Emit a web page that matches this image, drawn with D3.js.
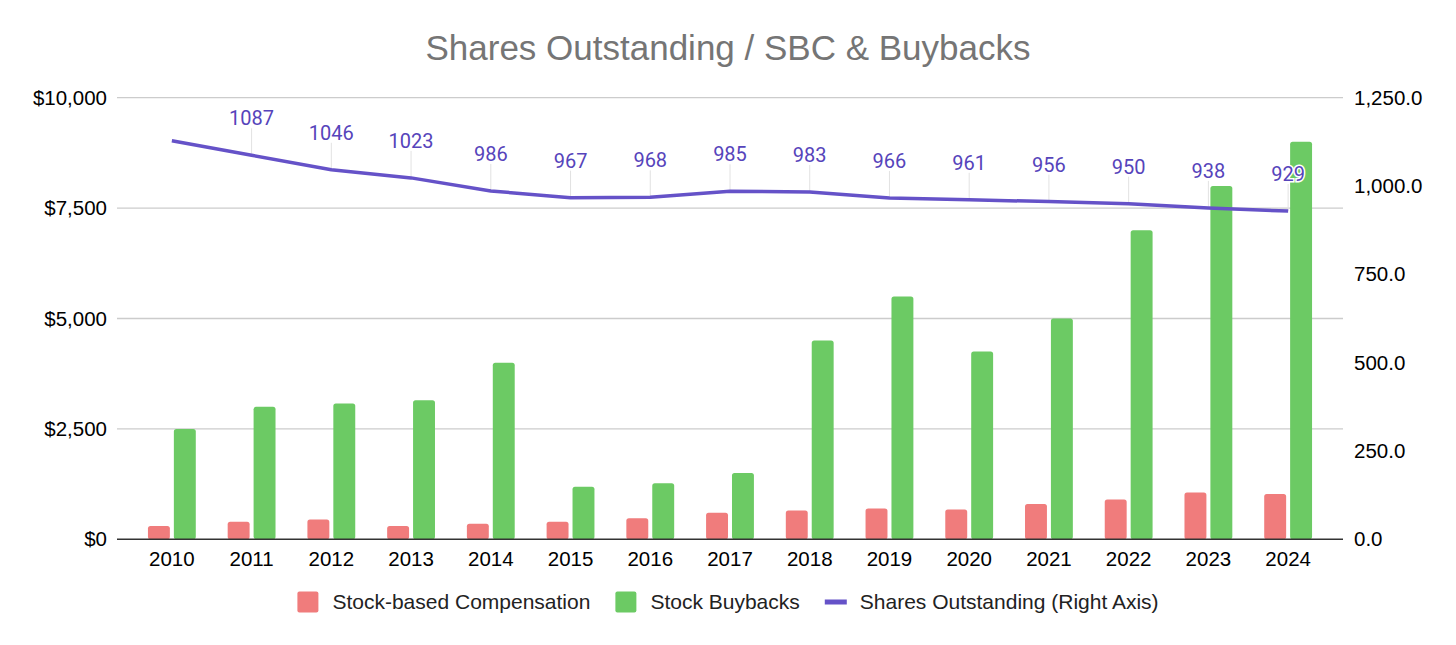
<!DOCTYPE html>
<html>
<head>
<meta charset="utf-8">
<script src="https://cdn.jsdelivr.net/npm/d3@7"></script>
<style>
  html, body { margin: 0; padding: 0; background: #fff; }
  svg { display: block; }
</style>
</head>
<body>
<div id="chart"></div>
<script>
// Values
const years = ["2010", "2011", "2012", "2013", "2014", "2015", "2016", "2017",
               "2018", "2019", "2020", "2021", "2022", "2023", "2024"];
const sbc = [300, 400, 450, 300, 350, 400, 475, 600, 650, 700, 675, 800, 900, 1060, 1025];
const buybacks = [2500, 3000, 3075, 3150, 4000, 1190, 1270, 1500, 4500, 5500, 4250, 5000, 7000, 8000, 9000];
const shares = [1128, 1087, 1046, 1023, 986, 967, 968, 985, 983, 966, 961, 956, 950, 938, 929];
const leftTicks = [0, 2500, 5000, 7500, 10000];
const rightTicks = [0, 250, 500, 750, 1000, 1250];

const width = 1456, height = 645;
const colors = { sbc: "#f07c7c", buy: "#6cca64", line: "#6552c8", label: "#5644bb" };

// plot canvas (gridlines) and the band range inside it
const plot = { left: 117, right: 1343, top: 97.7, bottom: 539.3 };
const bandPad = 15;

const svg = d3.select("#chart").append("svg")
    .attr("width", width)
    .attr("height", height)
    .attr("viewBox", [0, 0, width, height]);

const x0 = d3.scaleBand()
    .domain(years)
    .range([plot.left + bandPad, plot.right - bandPad])
    .paddingInner(0.4)
    .paddingOuter(0.2);

const x1 = d3.scaleBand()
    .domain(["sbc", "buy"])
    .range([0, x0.bandwidth()])
    .paddingInner(0.154);

const yL = d3.scaleLinear().domain([0, 10000]).range([plot.bottom, plot.top]);
const yR = d3.scaleLinear().domain([0, 1250]).range([plot.bottom, plot.top]);

const cx = d => x0(d) + x0.bandwidth() / 2;

// Title
svg.append("text")
    .attr("x", width / 2)
    .attr("y", 60)
    .attr("text-anchor", "middle")
    .attr("font-family", "'Liberation Sans', Arial, sans-serif")
    .attr("font-size", 35)
    .attr("fill", "#757575")
    .text("Shares Outstanding / SBC & Buybacks");

// Gridlines
svg.append("g")
    .selectAll("line")
    .data(leftTicks.filter(t => t > 0))
    .join("line")
    .attr("x1", plot.left)
    .attr("x2", plot.right)
    .attr("y1", d => yL(d))
    .attr("y2", d => yL(d))
    .attr("stroke", "#cccccc")
    .attr("stroke-width", 1.3);

// Left axis
const leftAxis = svg.append("g")
    .attr("transform", `translate(${plot.left},0)`)
    .call(d3.axisLeft(yL)
        .tickValues(leftTicks)
        .tickSize(0)
        .tickPadding(10)
        .tickFormat(d => "$" + d3.format(",")(d)));
leftAxis.select(".domain").remove();

// Right axis
const rightAxis = svg.append("g")
    .attr("transform", `translate(${plot.right},0)`)
    .call(d3.axisRight(yR)
        .tickValues(rightTicks)
        .tickSize(0)
        .tickPadding(11)
        .tickFormat(d3.format(",.1f")));
rightAxis.select(".domain").remove();

// Bottom axis labels
const bottomAxis = svg.append("g")
    .attr("transform", `translate(0,${plot.bottom})`)
    .call(d3.axisBottom(x0).tickSize(0).tickPadding(12));
bottomAxis.select(".domain").remove();

svg.selectAll(".tick text")
    .attr("font-family", "'Liberation Sans', Arial, sans-serif")
    .attr("font-size", 20.5)
    .attr("fill", "#000");

// Bars
const groups = svg.append("g").attr("class", "bars")
    .selectAll("g")
    .data(years)
    .join("g")
    .attr("transform", d => `translate(${x0(d)},0)`);

groups.append("rect")
    .attr("x", x1("sbc"))
    .attr("width", x1.bandwidth())
    .attr("y", (d, i) => yL(sbc[i]))
    .attr("height", (d, i) => yL(0) - yL(sbc[i]))
    .attr("rx", 2.5)
    .attr("fill", colors.sbc);

groups.append("rect")
    .attr("x", x1("buy"))
    .attr("width", x1.bandwidth())
    .attr("y", (d, i) => yL(buybacks[i]))
    .attr("height", (d, i) => yL(0) - yL(buybacks[i]))
    .attr("rx", 2.5)
    .attr("fill", colors.buy);

// Baseline
svg.append("line")
    .attr("x1", plot.left)
    .attr("x2", plot.right)
    .attr("y1", yL(0))
    .attr("y2", yL(0))
    .attr("stroke", "#333")
    .attr("stroke-width", 1.6);

// Shares outstanding line
const pts = years.map((y, i) => ({ year: y, v: shares[i], i }));

// label leader lines (2010 has no label in the original)
const labelled = pts.filter(p => p.i > 0);
svg.append("g")
    .selectAll("line")
    .data(labelled)
    .join("line")
    .attr("x1", d => cx(d.year))
    .attr("x2", d => cx(d.year))
    .attr("y1", d => yR(d.v) - 27)
    .attr("y2", d => yR(d.v))
    .attr("stroke", "#e2e2e2")
    .attr("stroke-width", 1);

svg.append("path")
    .datum(pts)
    .attr("fill", "none")
    .attr("stroke", colors.line)
    .attr("stroke-width", 3.5)
    .attr("stroke-linejoin", "round")
    .attr("d", d3.line().x(d => cx(d.year)).y(d => yR(d.v)));

svg.append("g")
    .selectAll("text")
    .data(labelled)
    .join("text")
    .attr("x", d => cx(d.year))
    .attr("y", d => yR(d.v) - 30)
    .attr("text-anchor", "middle")
    .attr("font-family", "Roboto, sans-serif")
    .attr("font-size", 20)
    .attr("fill", colors.label)
    .attr("stroke", "#fff")
    .attr("stroke-width", 3)
    .attr("paint-order", "stroke")
    .text(d => d.v);

// Legend
const legendItems = [
    { name: "Stock-based Compensation", color: colors.sbc, type: "box" },
    { name: "Stock Buybacks", color: colors.buy, type: "box" },
    { name: "Shares Outstanding (Right Axis)", color: colors.line, type: "line" }
];
const legend = svg.append("g");
const legendY = 602;
let lx = 0;
legendItems.forEach((item, k) => {
    const g = legend.append("g").attr("transform", `translate(${lx},0)`);
    if (item.type === "box") {
        g.append("rect")
            .attr("x", 0).attr("y", legendY - 10.5)
            .attr("width", 21).attr("height", 21)
            .attr("rx", 2)
            .attr("fill", item.color);
    } else {
        g.append("rect")
            .attr("x", 0).attr("y", legendY - 2.5)
            .attr("width", 22).attr("height", 5)
            .attr("fill", item.color);
    }
    const t = g.append("text")
        .attr("x", 35)
        .attr("y", legendY)
        .attr("dy", "0.35em")
        .attr("font-family", "'Liberation Sans', Arial, sans-serif")
        .attr("font-size", 21)
        .attr("fill", "#222")
        .text(item.name);
    lx += 35 + t.node().getComputedTextLength() + 25;
});
const legendW = lx - 25;
legend.attr("transform", `translate(${width / 2 - legendW / 2},0)`);
</script>
</body>
</html>
